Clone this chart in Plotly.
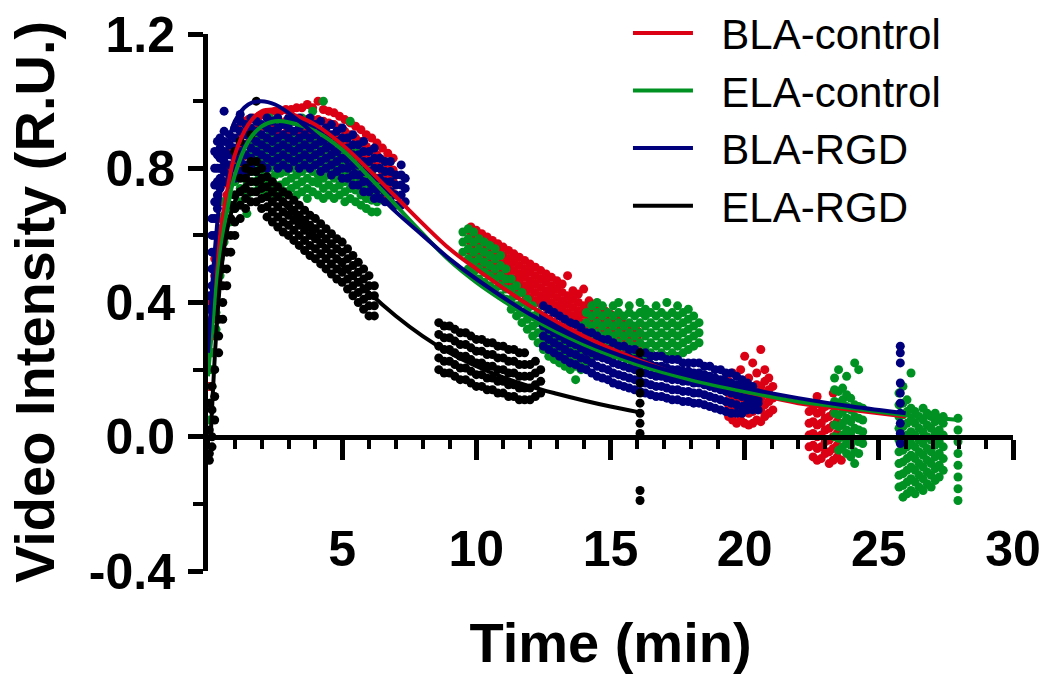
import plotly.graph_objects as go

# ---------------- data ----------------
# Scatter clouds: for every time column, the values seen in that column.
bla_ctrl_t = [0.05, 0.15, 0.25, 0.35, 0.5, 0.7, 0.9, 1.1, 1.3, 1.5, 1.7, 1.9, 2.1, 2.3, 2.5, 2.7, 2.9, 3.1, 3.3, 3.5,
              3.7, 3.9, 4.1, 4.3, 4.5, 4.7, 4.9, 5.1, 5.3, 5.5, 5.7, 5.9, 6.1, 6.3, 6.5, 6.7, 6.9,
              9.8, 10.0, 10.2, 10.4, 10.6, 10.8, 11.0, 11.2, 11.4, 11.6, 11.8, 12.0, 12.2, 12.4, 12.6, 12.8, 13.0,
              13.2, 13.4, 13.6, 13.8, 14.0, 14.2, 14.4, 14.6, 14.8, 15.0, 15.2, 15.4, 15.6, 15.8, 16.0,
              19.4, 19.55, 19.7, 19.85, 20.0, 20.15, 20.3, 20.45, 20.6, 20.75, 20.9, 21.05,
              22.4, 22.55, 22.7, 22.85, 23.0, 23.15, 23.3, 23.45, 23.6]
bla_ctrl_v = [[0.15, 0.2], [0.25, 0.3, 0.35, 0.4], [0.38, 0.43, 0.48, 0.53], [0.5, 0.55, 0.6, 0.65],
              [0.6, 0.65, 0.7, 0.75, 0.8], [0.72, 0.76, 0.8, 0.84], [0.77, 0.81, 0.85, 0.89],
              [0.8, 0.83, 0.86, 0.89, 0.92], [0.8, 0.835, 0.87, 0.905, 0.94], [0.805, 0.84, 0.875, 0.91, 0.945],
              [0.81, 0.845, 0.88, 0.915, 0.95], [0.815, 0.85, 0.885, 0.92, 0.955], [0.82, 0.855, 0.89, 0.925, 0.96],
              [0.825, 0.86, 0.895, 0.93, 0.965], [0.83, 0.865, 0.9, 0.935, 0.97], [0.83, 0.865, 0.9, 0.935, 0.97],
              [0.835, 0.87, 0.905, 0.94, 0.975], [0.835, 0.87, 0.905, 0.94, 0.975], [0.84, 0.875, 0.91, 0.945, 0.98],
              [0.84, 0.875, 0.91, 0.945, 0.98], [0.84, 0.875, 0.91, 0.945, 0.99], [0.84, 0.875, 0.91, 0.945, 0.98],
              [0.84, 0.875, 0.91, 0.945, 1.0], [0.835, 0.87, 0.905, 0.94, 0.975], [0.83, 0.865, 0.9, 0.935, 0.97],
              [0.825, 0.86, 0.895, 0.93, 0.965], [0.815, 0.85, 0.885, 0.92, 0.955], [0.805, 0.84, 0.875, 0.91, 0.945],
              [0.795, 0.83, 0.865, 0.9, 0.935], [0.785, 0.82, 0.855, 0.89, 0.925], [0.775, 0.81, 0.845, 0.88, 0.915],
              [0.76, 0.795, 0.83, 0.865, 0.9], [0.75, 0.785, 0.82, 0.855, 0.89], [0.735, 0.77, 0.805, 0.84, 0.875],
              [0.72, 0.755, 0.79, 0.825, 0.86], [0.705, 0.74, 0.775, 0.81, 0.845], [0.69, 0.725, 0.76, 0.795, 0.83],
              [0.525, 0.55, 0.575, 0.6, 0.625], [0.515, 0.54, 0.565, 0.59, 0.615], [0.505, 0.53, 0.555, 0.58, 0.605],
              [0.495, 0.52, 0.545, 0.57, 0.595], [0.485, 0.51, 0.535, 0.56, 0.585], [0.475, 0.5, 0.525, 0.55, 0.575],
              [0.465, 0.49, 0.515, 0.54, 0.565], [0.455, 0.48, 0.505, 0.53, 0.555], [0.445, 0.47, 0.495, 0.52, 0.545],
              [0.435, 0.46, 0.485, 0.51, 0.535], [0.425, 0.45, 0.475, 0.5, 0.525], [0.415, 0.44, 0.465, 0.49, 0.515],
              [0.405, 0.43, 0.455, 0.48, 0.505], [0.395, 0.42, 0.445, 0.47, 0.495], [0.385, 0.41, 0.435, 0.46, 0.485],
              [0.375, 0.4, 0.425, 0.45, 0.475], [0.365, 0.39, 0.415, 0.44, 0.465], [0.355, 0.38, 0.405, 0.43, 0.455],
              [0.345, 0.37, 0.395, 0.42, 0.48], [0.335, 0.36, 0.385, 0.41, 0.435], [0.325, 0.35, 0.375, 0.4, 0.425],
              [0.315, 0.34, 0.365, 0.39, 0.44], [0.305, 0.33, 0.355, 0.38, 0.405], [0.295, 0.32, 0.345, 0.37, 0.395],
              [0.285, 0.31, 0.335, 0.36, 0.385], [0.275, 0.3, 0.325, 0.35, 0.375], [0.265, 0.29, 0.315, 0.34, 0.365],
              [0.255, 0.28, 0.305, 0.33, 0.355], [0.245, 0.27, 0.295, 0.32, 0.345], [0.235, 0.26, 0.285, 0.31, 0.335],
              [0.225, 0.25, 0.275, 0.3, 0.325], [0.215, 0.24, 0.265, 0.29, 0.315],
              [0.06, 0.095, 0.13, 0.165], [0.05, 0.085, 0.12, 0.155, 0.19], [0.04, 0.075, 0.11, 0.145],
              [0.05, 0.085, 0.12, 0.155, 0.2], [0.04, 0.075, 0.11, 0.145, 0.24], [0.035, 0.07, 0.105, 0.14, 0.175],
              [0.04, 0.075, 0.11, 0.145, 0.22], [0.05, 0.085, 0.12, 0.155, 0.19], [0.045, 0.08, 0.115, 0.15, 0.26],
              [0.06, 0.095, 0.13, 0.165, 0.2], [0.07, 0.105, 0.14, 0.175], [0.08, 0.115, 0.15],
              [-0.03, 0.005, 0.04, 0.075], [-0.06, -0.025, 0.01, 0.045, 0.08], [-0.07, -0.035, 0.0, 0.035, 0.07, 0.12],
              [-0.065, -0.03, 0.005, 0.04, 0.075], [-0.05, -0.015, 0.02, 0.055, 0.09], [-0.08, -0.045, -0.01, 0.025, 0.06],
              [-0.07, -0.035, 0.0, 0.035, 0.07, 0.13], [-0.06, -0.025, 0.01, 0.045], [-0.07, -0.035, 0.0, 0.035]]

ela_ctrl_t = [0.05, 0.15, 0.3, 0.45, 0.6, 0.8, 1.0, 1.2, 1.45, 1.7, 1.9, 2.1, 2.3, 2.5, 2.7, 2.9, 3.1, 3.3, 3.5, 3.7,
              3.9, 4.1, 4.3, 4.5, 4.7, 4.9, 5.1, 5.3, 5.5, 5.7, 5.9, 6.1, 6.3,
              9.5, 9.7, 9.9, 10.1, 10.3, 10.5, 10.7, 10.9, 11.1, 11.3, 11.5, 11.7, 11.9, 12.1, 12.3, 12.5, 12.7,
              12.9, 13.1, 13.3, 13.5, 13.7, 13.9, 14.1, 14.3, 14.5, 14.7, 14.9, 15.1, 15.3, 15.5, 15.7, 15.9,
              16.1, 16.3, 16.5, 16.7, 16.9, 17.1, 17.3, 17.5, 17.7, 17.9, 18.1, 18.3,
              23.35, 23.5, 23.65, 23.8, 23.95, 24.1, 24.25, 24.4,
              25.75, 25.9, 26.05, 26.2, 26.35, 26.5, 26.65, 26.8, 26.95, 27.1, 27.25, 27.4, 27.95]
ela_ctrl_v = [[0.05, 0.1], [0.15, 0.2, 0.25], [0.32, 0.37, 0.42, 0.47], [0.48, 0.53, 0.58, 0.62],
              [0.58, 0.62, 0.66, 0.7], [0.64, 0.68, 0.72, 0.76], [0.68, 0.72, 0.76, 0.8], [0.7, 0.74, 0.78, 0.82],
              [0.665, 0.72, 0.76, 0.8, 0.84], [0.73, 0.76, 0.79, 0.82, 0.85, 0.88], [0.74, 0.77, 0.8, 0.83, 0.86, 0.9],
              [0.73, 0.76, 0.79, 0.82, 0.85, 0.88], [0.74, 0.77, 0.8, 0.83, 0.86, 0.9, 0.95],
              [0.72, 0.75, 0.78, 0.81, 0.84, 0.87], [0.72, 0.75, 0.785, 0.81, 0.84, 0.87, 0.93],
              [0.73, 0.76, 0.79, 0.82, 0.85, 0.88], [0.74, 0.77, 0.8, 0.83, 0.86, 0.89],
              [0.72, 0.75, 0.78, 0.81, 0.84, 0.87], [0.73, 0.76, 0.79, 0.82, 0.85, 0.88, 0.95],
              [0.71, 0.74, 0.77, 0.8, 0.83, 0.86], [0.73, 0.76, 0.79, 0.82, 0.85, 0.88, 0.97],
              [0.72, 0.755, 0.78, 0.81, 0.84, 0.87], [0.71, 0.74, 0.77, 0.8, 0.83, 0.86, 1.0],
              [0.72, 0.75, 0.78, 0.81, 0.84, 0.87], [0.71, 0.74, 0.77, 0.8, 0.83, 0.86],
              [0.72, 0.75, 0.78, 0.81, 0.84, 0.87], [0.7, 0.73, 0.76, 0.79, 0.82, 0.85],
              [0.71, 0.74, 0.77, 0.8, 0.83, 0.94], [0.7, 0.735, 0.76, 0.79, 0.82, 0.85],
              [0.69, 0.72, 0.75, 0.78, 0.81], [0.68, 0.71, 0.74, 0.77, 0.8], [0.67, 0.705, 0.73, 0.76, 0.79],
              [0.67, 0.7, 0.73, 0.76],
              [0.55, 0.58, 0.61], [0.5, 0.53, 0.56, 0.59, 0.62], [0.49, 0.52, 0.55, 0.58, 0.61],
              [0.47, 0.5, 0.53, 0.56, 0.59], [0.46, 0.49, 0.52, 0.55, 0.58], [0.45, 0.48, 0.51, 0.54, 0.57],
              [0.44, 0.47, 0.5, 0.53, 0.56], [0.42, 0.45, 0.48, 0.51, 0.54], [0.41, 0.44, 0.47, 0.5],
              [0.38, 0.41, 0.44, 0.47], [0.36, 0.39, 0.42, 0.45], [0.34, 0.37, 0.4, 0.43], [0.32, 0.35, 0.38, 0.41],
              [0.3, 0.33, 0.36, 0.39], [0.28, 0.31, 0.34, 0.37], [0.26, 0.29, 0.32, 0.35], [0.24, 0.27, 0.3, 0.33],
              [0.23, 0.26, 0.29, 0.32], [0.22, 0.25, 0.28, 0.31], [0.21, 0.24, 0.27, 0.3], [0.2, 0.23, 0.26, 0.29],
              [0.17, 0.21, 0.24, 0.27, 0.3], [0.2, 0.23, 0.26, 0.29, 0.33], [0.22, 0.25, 0.28, 0.31, 0.34, 0.37],
              [0.24, 0.27, 0.3, 0.33, 0.36, 0.39], [0.25, 0.28, 0.31, 0.34, 0.37, 0.4], [0.24, 0.27, 0.3, 0.33, 0.36, 0.39],
              [0.25, 0.28, 0.31, 0.34, 0.37], [0.24, 0.27, 0.3, 0.33, 0.36, 0.39], [0.25, 0.28, 0.31, 0.34, 0.37, 0.4],
              [0.24, 0.27, 0.3, 0.33, 0.36], [0.25, 0.28, 0.31, 0.34, 0.37, 0.39], [0.24, 0.27, 0.3, 0.33, 0.36],
              [0.25, 0.28, 0.31, 0.34, 0.37, 0.4], [0.24, 0.27, 0.3, 0.33, 0.36, 0.38], [0.25, 0.28, 0.31, 0.34, 0.37],
              [0.24, 0.27, 0.3, 0.33, 0.36, 0.39], [0.25, 0.28, 0.31, 0.34, 0.37], [0.24, 0.27, 0.3, 0.33, 0.36, 0.4],
              [0.25, 0.28, 0.31, 0.34, 0.37], [0.24, 0.27, 0.3, 0.33, 0.36, 0.39], [0.25, 0.28, 0.31, 0.34, 0.37],
              [0.26, 0.29, 0.32, 0.35, 0.38], [0.27, 0.3, 0.33, 0.36], [0.28, 0.31, 0.34],
              [0.0, 0.035, 0.07, 0.105, 0.14, 0.175], [-0.04, -0.005, 0.03, 0.065, 0.1, 0.135, 0.2],
              [-0.03, 0.005, 0.04, 0.075, 0.11, 0.145], [-0.05, -0.015, 0.02, 0.055, 0.09, 0.125, 0.18],
              [-0.06, -0.025, 0.01, 0.045, 0.08, 0.115], [-0.08, -0.045, -0.01, 0.025, 0.06, 0.095, 0.22],
              [-0.05, -0.015, 0.02, 0.055, 0.09, 0.2], [-0.02, 0.015, 0.05, 0.085],
              [-0.15, -0.115, -0.08, -0.045, -0.01, 0.025, 0.06, 0.095, 0.13], [-0.18, -0.145, -0.11, -0.075, -0.04, -0.005, 0.03, 0.065, 0.1, 0.15],
              [-0.17, -0.135, -0.1, -0.065, -0.03, 0.005, 0.04, 0.075, 0.11], [-0.16, -0.125, -0.09, -0.055, -0.02, 0.015, 0.05, 0.085, 0.19],
              [-0.17, -0.135, -0.1, -0.065, -0.03, 0.005, 0.04, 0.075], [-0.15, -0.115, -0.08, -0.045, -0.01, 0.025, 0.06],
              [-0.16, -0.125, -0.09, -0.055, -0.02, 0.015, 0.05, 0.085], [-0.14, -0.105, -0.07, -0.035, 0.0, 0.035, 0.07],
              [-0.15, -0.115, -0.08, -0.045, -0.01, 0.025, 0.06], [-0.13, -0.095, -0.06, -0.025, 0.01, 0.045, 0.07],
              [-0.12, -0.085, -0.05, -0.015, 0.02, 0.055], [-0.1, -0.065, -0.03, 0.005, 0.04, 0.06],
              [-0.19, -0.155, -0.12, -0.085, -0.05, -0.015, 0.02, 0.055]]

bla_rgd_t = [0.05, 0.15, 0.25, 0.35, 0.45, 0.6, 0.8, 1.0, 1.2, 1.4, 1.6, 1.8, 2.0, 2.2, 2.4, 2.6, 2.8, 3.0, 3.2, 3.4,
             3.6, 3.8, 4.0, 4.2, 4.4, 4.6, 4.8, 5.0, 5.2, 5.4, 5.6, 5.8, 6.0, 6.2, 6.4, 6.6, 6.8, 7.0, 7.2, 7.35,
             12.5, 12.7, 12.9, 13.1, 13.3, 13.5, 13.7, 13.9, 14.1, 14.3, 14.5, 14.7, 14.9, 15.1, 15.3, 15.5, 15.7,
             15.9, 16.1, 16.3, 16.5, 16.7, 16.9, 17.1, 17.3, 17.5, 17.7, 17.9, 18.1, 18.3, 18.5, 18.7, 18.9,
             19.1, 19.3, 19.5, 19.7, 19.9, 20.1, 20.3, 20.5,
             25.8]
bla_rgd_v = [[0.3, 0.34, 0.38, 0.42], [0.45, 0.5, 0.55, 0.6, 0.65], [0.6, 0.65, 0.7, 0.75, 0.8, 0.85],
             [0.68, 0.72, 0.76, 0.8, 0.84, 0.88], [0.74, 0.77, 0.8, 0.83, 0.86, 0.89],
             [0.76, 0.79, 0.82, 0.85, 0.88, 0.91, 0.97], [0.75, 0.78, 0.81, 0.84, 0.87, 0.9],
             [0.77, 0.8, 0.83, 0.86, 0.89, 0.92], [0.79, 0.82, 0.85, 0.88, 0.91, 0.94, 0.96],
             [0.78, 0.81, 0.84, 0.87, 0.9, 0.93], [0.8, 0.83, 0.86, 0.89, 0.92, 0.95],
             [0.79, 0.82, 0.85, 0.88, 0.91, 0.94], [0.81, 0.84, 0.87, 0.9, 0.93], [0.8, 0.83, 0.86, 0.89, 0.92, 0.95],
             [0.82, 0.85, 0.88, 0.91, 0.94], [0.8, 0.83, 0.86, 0.89, 0.92, 0.95], [0.81, 0.84, 0.87, 0.9, 0.93],
             [0.8, 0.83, 0.86, 0.89, 0.92, 0.95], [0.82, 0.85, 0.88, 0.91, 0.94], [0.8, 0.83, 0.86, 0.89, 0.92, 0.95],
             [0.81, 0.84, 0.87, 0.9, 0.93], [0.8, 0.83, 0.86, 0.89, 0.92, 0.95], [0.81, 0.84, 0.87, 0.9, 0.93],
             [0.79, 0.82, 0.85, 0.88, 0.91, 0.94], [0.8, 0.83, 0.86, 0.89, 0.92], [0.78, 0.81, 0.84, 0.87, 0.9, 0.93],
             [0.79, 0.82, 0.85, 0.88, 0.91], [0.77, 0.8, 0.83, 0.86, 0.89, 0.92], [0.77, 0.8, 0.83, 0.86, 0.89],
             [0.75, 0.78, 0.81, 0.84, 0.87, 0.9], [0.75, 0.78, 0.81, 0.84, 0.87], [0.73, 0.76, 0.79, 0.82, 0.85, 0.88],
             [0.73, 0.76, 0.79, 0.82, 0.85], [0.71, 0.74, 0.77, 0.8, 0.83, 0.86], [0.71, 0.74, 0.77, 0.8, 0.83],
             [0.7, 0.73, 0.76, 0.79, 0.82], [0.7, 0.73, 0.76, 0.79, 0.82], [0.69, 0.72, 0.75, 0.78],
             [0.69, 0.72, 0.75, 0.78, 0.81], [0.7, 0.74, 0.77],
             [0.27, 0.3, 0.33, 0.36, 0.39], [0.26, 0.29, 0.32, 0.35, 0.38], [0.25, 0.28, 0.31, 0.34, 0.37],
             [0.24, 0.27, 0.3, 0.33, 0.36], [0.23, 0.26, 0.29, 0.32, 0.35], [0.22, 0.25, 0.28, 0.31, 0.34],
             [0.215, 0.245, 0.275, 0.305, 0.335], [0.205, 0.235, 0.265, 0.295, 0.325], [0.2, 0.23, 0.255, 0.285, 0.31],
             [0.19, 0.22, 0.25, 0.28, 0.31], [0.18, 0.21, 0.24, 0.27, 0.3], [0.175, 0.205, 0.235, 0.265, 0.29],
             [0.17, 0.2, 0.23, 0.26, 0.29], [0.16, 0.19, 0.22, 0.25, 0.28], [0.155, 0.185, 0.215, 0.245, 0.27],
             [0.15, 0.18, 0.21, 0.24, 0.27], [0.145, 0.175, 0.205, 0.235, 0.26], [0.14, 0.17, 0.2, 0.23, 0.26],
             [0.135, 0.165, 0.195, 0.225, 0.25], [0.13, 0.16, 0.19, 0.22, 0.25], [0.125, 0.155, 0.185, 0.215, 0.24],
             [0.12, 0.15, 0.18, 0.21, 0.24], [0.12, 0.15, 0.18, 0.21, 0.24], [0.115, 0.145, 0.175, 0.205, 0.23],
             [0.11, 0.14, 0.17, 0.2, 0.23], [0.11, 0.14, 0.17, 0.2, 0.23], [0.105, 0.135, 0.165, 0.195, 0.22],
             [0.105, 0.135, 0.165, 0.195, 0.22], [0.1, 0.13, 0.16, 0.19, 0.22], [0.1, 0.13, 0.16, 0.19, 0.22],
             [0.095, 0.125, 0.155, 0.185, 0.21], [0.09, 0.12, 0.15, 0.18, 0.21], [0.085, 0.115, 0.145, 0.175, 0.2],
             [0.08, 0.11, 0.14, 0.17, 0.2], [0.075, 0.105, 0.135, 0.165, 0.19], [0.07, 0.1, 0.13, 0.16, 0.19],
             [0.07, 0.095, 0.125, 0.155, 0.18], [0.07, 0.09, 0.12, 0.15, 0.17], [0.08, 0.1, 0.12, 0.14, 0.16],
             [0.08, 0.1, 0.115, 0.13, 0.15], [0.08, 0.1, 0.11, 0.13],
             [0.27, 0.25, 0.22, 0.16, 0.13, 0.1, 0.07, 0.04, 0.01, -0.02]]

ela_rgd_t = [0.05, 0.15, 0.25, 0.4, 0.55, 0.7, 0.85, 1.0, 1.2, 1.4, 1.6, 1.8, 2.0, 2.2, 2.4, 2.6, 2.8, 3.0, 3.2, 3.4,
             3.6, 3.8, 4.0, 4.2, 4.4, 4.6, 4.8, 5.0, 5.2, 5.4, 5.6, 5.8, 6.0, 6.2,
             8.6, 8.8, 9.0, 9.2, 9.4, 9.6, 9.8, 10.0, 10.2, 10.4, 10.6, 10.8, 11.0, 11.2, 11.4, 11.6, 11.8, 12.0,
             12.2, 12.4,
             16.1]
ela_rgd_v = [[-0.05, 0.02, -0.07, 0.1], [0.0, 0.08, 0.15, -0.03], [0.05, 0.12, 0.2], [0.25, 0.3, 0.35],
             [0.35, 0.4, 0.45, 0.5], [0.45, 0.5, 0.55, 0.6], [0.55, 0.6, 0.65, 0.69], [0.6, 0.64, 0.68, 0.72, 0.85],
             [0.65, 0.69, 0.73, 0.77, 0.88], [0.68, 0.71, 0.74, 0.77, 0.8], [0.7, 0.73, 0.76, 0.79, 0.82, 0.9],
             [0.7, 0.73, 0.76, 0.79, 0.82, 1.0], [0.68, 0.71, 0.74, 0.77, 0.8], [0.655, 0.685, 0.715, 0.745, 0.775],
             [0.64, 0.67, 0.7, 0.73, 0.76], [0.625, 0.655, 0.685, 0.715, 0.745], [0.61, 0.64, 0.67, 0.7, 0.73],
             [0.6, 0.63, 0.66, 0.69, 0.72], [0.585, 0.615, 0.645, 0.675, 0.705], [0.57, 0.6, 0.63, 0.66, 0.69],
             [0.555, 0.585, 0.615, 0.645, 0.675], [0.54, 0.57, 0.6, 0.63, 0.66], [0.53, 0.56, 0.59, 0.62, 0.65],
             [0.515, 0.545, 0.575, 0.605, 0.635], [0.5, 0.53, 0.56, 0.59, 0.62], [0.485, 0.515, 0.545, 0.575, 0.605],
             [0.47, 0.5, 0.53, 0.56, 0.59], [0.46, 0.49, 0.52, 0.55, 0.58], [0.44, 0.47, 0.5, 0.53, 0.56],
             [0.42, 0.45, 0.48, 0.51, 0.54], [0.4, 0.43, 0.46, 0.49, 0.52], [0.38, 0.41, 0.44, 0.47, 0.5],
             [0.36, 0.39, 0.42, 0.45, 0.48], [0.36, 0.39, 0.42, 0.45],
             [0.2, 0.235, 0.27, 0.305, 0.34], [0.19, 0.225, 0.26, 0.295, 0.33], [0.19, 0.225, 0.26, 0.295, 0.33],
             [0.18, 0.215, 0.25, 0.285, 0.32], [0.17, 0.205, 0.24, 0.275, 0.31], [0.17, 0.205, 0.24, 0.275, 0.31],
             [0.16, 0.195, 0.23, 0.265, 0.3], [0.15, 0.185, 0.22, 0.255, 0.29], [0.15, 0.185, 0.22, 0.255, 0.29],
             [0.14, 0.175, 0.21, 0.245, 0.28], [0.14, 0.175, 0.21, 0.245, 0.28], [0.13, 0.165, 0.2, 0.235, 0.27],
             [0.13, 0.165, 0.2, 0.235, 0.27], [0.12, 0.155, 0.19, 0.225, 0.26], [0.12, 0.155, 0.19, 0.225, 0.26],
             [0.11, 0.145, 0.18, 0.215, 0.25], [0.11, 0.145, 0.18, 0.215, 0.25], [0.11, 0.145, 0.18, 0.215],
             [0.12, 0.155, 0.19, 0.225], [0.13, 0.165, 0.2],
             [0.25, 0.22, 0.19, 0.16, 0.13, 0.1, 0.07, 0.04, 0.01, -0.16, -0.19]]

# Fitted curves.
bla_ctrl_fit_t = [0, 0.25, 0.5, 0.75, 1, 1.5, 2, 2.5, 3, 4, 5, 6, 7, 8, 9, 10, 12, 14, 16, 18, 20, 22, 24, 26]
bla_ctrl_fit_v = [0.2, 0.45, 0.63, 0.75, 0.84, 0.93, 0.97, 0.975, 0.965, 0.93, 0.87, 0.795, 0.715, 0.635, 0.56, 0.5,
                  0.39, 0.3, 0.23, 0.175, 0.135, 0.1, 0.08, 0.06]
ela_ctrl_fit_t = [0, 0.25, 0.5, 0.75, 1, 1.5, 2, 2.5, 3, 4, 5, 6, 7, 8, 9, 10, 11, 12, 14, 16, 18, 20, 22, 24, 26, 28]
ela_ctrl_fit_v = [0.18, 0.4, 0.57, 0.69, 0.78, 0.88, 0.925, 0.94, 0.937, 0.91, 0.855, 0.775, 0.69, 0.605, 0.525,
                  0.46, 0.405, 0.355, 0.275, 0.215, 0.17, 0.135, 0.105, 0.085, 0.065, 0.05]
bla_rgd_fit_t = [0, 0.25, 0.5, 0.75, 1, 1.5, 2, 2.5, 3, 4, 5, 6, 7, 8, 9, 10, 12, 14, 16, 18, 20, 22, 24, 26]
bla_rgd_fit_v = [0.25, 0.55, 0.75, 0.87, 0.94, 0.99, 1.0, 0.99, 0.965, 0.9, 0.83, 0.75, 0.67, 0.6, 0.53, 0.47,
                 0.365, 0.285, 0.225, 0.18, 0.145, 0.115, 0.09, 0.07]
ela_rgd_fit_t = [0.1, 0.3, 0.5, 0.75, 1, 1.25, 1.5, 1.75, 2, 2.5, 3, 3.5, 4, 5, 6, 7, 8, 9, 10, 11, 12, 13, 14, 15, 16]
ela_rgd_fit_v = [0.0, 0.3, 0.5, 0.63, 0.7, 0.74, 0.755, 0.76, 0.755, 0.72, 0.68, 0.64, 0.6, 0.51, 0.43, 0.36,
                 0.3, 0.25, 0.21, 0.177, 0.15, 0.128, 0.108, 0.09, 0.074]

series_names = ["BLA-control", "ELA-control", "BLA-RGD", "ELA-RGD"]
x_tick_vals = [5, 10, 15, 20, 25, 30]
y_tick_vals = [-0.4, 0.0, 0.4, 0.8, 1.2]
y_tick_text = ["-0.4", "0.0", "0.4", "0.8", "1.2"]
x_title = "Time (min)"
y_title = "Video Intensity (R.U.)"

# ---------------- styling ----------------
colors = ["rgb(220,0,20)", "rgb(0,145,35)", "rgb(0,0,125)", "rgb(0,0,0)"]
FONT = "Liberation Sans, Arial, sans-serif"


def flatten(ts, cols):
    xs, ys = [], []
    for t, col in zip(ts, cols):
        for v in col:
            xs.append(t)
            ys.append(v)
    return xs, ys


clouds = [(bla_ctrl_t, bla_ctrl_v), (ela_ctrl_t, ela_ctrl_v), (bla_rgd_t, bla_rgd_v), (ela_rgd_t, ela_rgd_v)]
fits = [(bla_ctrl_fit_t, bla_ctrl_fit_v), (ela_ctrl_fit_t, ela_ctrl_fit_v),
        (bla_rgd_fit_t, bla_rgd_fit_v), (ela_rgd_fit_t, ela_rgd_fit_v)]

fig = go.Figure()
for (ts, cols), c, name in zip(clouds, colors, series_names):
    xs, ys = flatten(ts, cols)
    fig.add_trace(go.Scatter(x=xs, y=ys, mode="markers", showlegend=False, name=name,
                             marker=dict(color=c, size=9, line=dict(width=0))))
for (ts, vs), c, name in zip(fits, colors, series_names):
    fig.add_trace(go.Scatter(x=ts, y=vs, mode="lines", name="\u00a0\u00a0" + name,
                             line=dict(color=c, width=4, shape="spline")))

fig.update_layout(
    template="none",
    width=1050, height=677,
    margin=dict(l=208, r=37, t=34, b=106, autoexpand=False),
    paper_bgcolor="white", plot_bgcolor="white",
    showlegend=True,
    legend=dict(x=0.5217, y=1.065, xanchor="left", yanchor="top", bgcolor="rgba(0,0,0,0)",
                font=dict(family=FONT, size=42, color="black"), itemwidth=60, tracegroupgap=0),
    xaxis=dict(range=[0, 30], anchor="free", position=0.25, showgrid=False, zeroline=False,
               showline=True, linecolor="black", linewidth=5,
               ticks="outside", ticklen=20, tickwidth=5, tickcolor="black",
               tickvals=x_tick_vals, ticktext=[str(v) for v in x_tick_vals],
               tickfont=dict(family=FONT, size=50, color="black", weight="bold"),
               ticklabelstandoff=46,
               minor=dict(dtick=1, tick0=0, ticks="outside", ticklen=9, tickwidth=4, tickcolor="black",
                          showgrid=False),
               title=dict(text=x_title, font=dict(family=FONT, size=56, color="black", weight="bold"),
                          standoff=47)),
    yaxis=dict(range=[-0.4, 1.2], showgrid=False, zeroline=False,
               showline=True, linecolor="black", linewidth=5,
               ticks="outside", ticklen=15, tickwidth=5, tickcolor="black",
               tickvals=y_tick_vals, ticktext=y_tick_text,
               tickfont=dict(family=FONT, size=50, color="black", weight="bold"),
               ticklabelstandoff=3,
               minor=dict(dtick=0.2, tick0=-0.4, ticks="outside", ticklen=10, tickwidth=4, tickcolor="black",
                          showgrid=False)),
    annotations=[dict(text=y_title, textangle=-90, xref="paper", yref="paper", x=-0.2571, y=0.5,
                      xanchor="left", yanchor="middle", showarrow=False,
                      font=dict(family=FONT, size=56, color="black", weight="bold"))],
)

# the page body has a default 8px margin; remove it so the figure sits at the window origin
fig.write_html("out.html", config={"displayModeBar": False},
               post_script="document.body.style.margin='0px';")
